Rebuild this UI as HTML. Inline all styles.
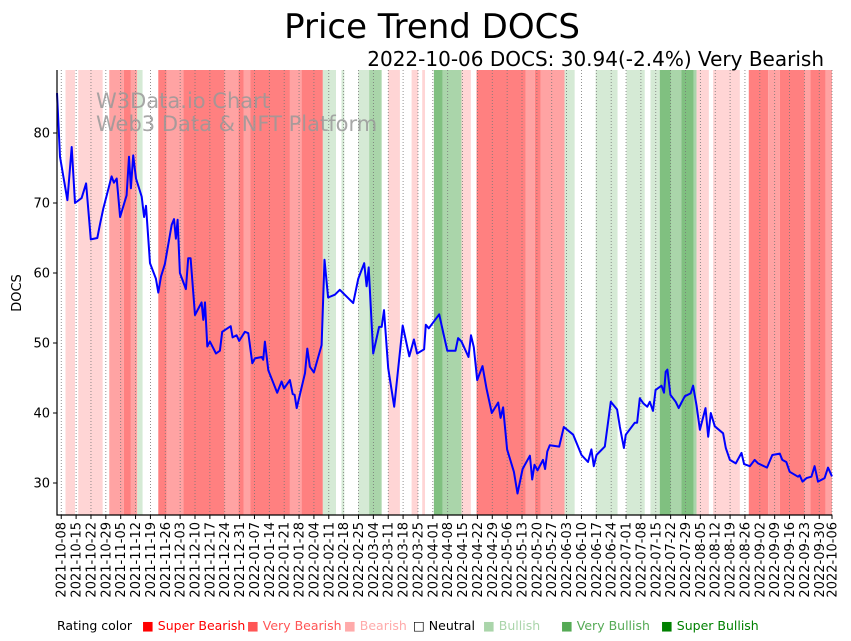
<!DOCTYPE html>
<html><head><meta charset="utf-8"><style>
html,body{margin:0;padding:0;background:#fff;}
svg{display:block;font-family:"DejaVu Sans","Liberation Sans",sans-serif;}
</style></head><body>
<svg id="chart" width="851" height="641" viewBox="0 0 851 641" xmlns="http://www.w3.org/2000/svg">
<g id="bands"></g>
<g id="grid"></g>
<text x="96" y="108" font-size="21" fill="#999" fill-opacity="0.85">W3Data.io Chart</text>
<text x="96" y="131" font-size="21" fill="#999" fill-opacity="0.85">Web3 Data &amp; NFT Platform</text>
<path id="line" fill="none" stroke="#0000ff" stroke-width="2" stroke-linejoin="round"/>
<g id="axes"></g>
<text x="432" y="38" font-size="34" text-anchor="middle">Price Trend DOCS</text>
<text x="824" y="66" font-size="20" text-anchor="end">2022-10-06 DOCS: 30.94(-2.4%) Very Bearish</text>
<text transform="translate(21,293) rotate(-90)" font-size="13" text-anchor="middle">DOCS</text>
<g font-size="12.5">
<text x="57" y="630">Rating color</text>
<text x="142" y="630" fill="#ff0000">■ Super Bearish</text>
<text x="247" y="630" fill="#ff5555">■ Very Bearish</text>
<text x="344" y="630" fill="#ffaaaa">■ Bearish</text>
<text x="413" y="630" fill="#000">□ Neutral</text>
<text x="483" y="630" fill="#aad5aa">■ Bullish</text>
<text x="561" y="630" fill="#55aa55">■ Very Bullish</text>
<text x="661" y="630" fill="#008000">■ Super Bullish</text>
</g>
</svg>
<script>
// data: days since 2021-10-06
const bandStart = [0,4,8.5,10,21.5,24.6,31.5,34.8,37.8,40.3,47.7,51.6,59.5,79,85.4,88,91,109.7,115.2,125.2,131.4,134,135.3,141.9,147,152.9,156,161.5,167,170.1,172,173.3,177.5,181.6,190.5,194.9,197.6,220.8,225,227.7,239.1,243.8,253.7,264,268.2,276.8,279.5,283.9,289.1,294.1,299.9,301.2,307,309,321.6,325.8,334.9,340.4,352.2,354.8,362];
const bandRating= [0,-1,0,-1,0,-2,-3,-2,1,0,-3,-2,-3,-2,-3,-2,-3,-2,-3,1,0,1,0,1,2,0,-1,0,-1,0,-1,0,3,2,-1,0,-3,-2,-3,-2,1,0,1,0,1,0,1,3,2,3,2,-1,0,-1,0,-3,-2,-3,-2,-3,-2];
const bandLastEnd = 365.2;
const priceDays = [0,1.4,4.9,6.9,8.5,11.6,13.7,15.9,19,20.2,21.8,25.7,26.8,28.1,29.7,32.8,33.9,34.8,35.9,37.2,39.9,41,41.9,43.8,46.6,47.7,49,50.8,54,55.1,56,56.8,57.9,60.7,61.8,62.9,65,68.1,68.9,69.7,70.8,72,74.9,76.7,77.8,81.8,82.7,84.6,85.8,88.5,90.1,92,93.2,96.4,97.1,97.9,99.5,103.7,105.8,106.9,109.7,111,111.9,112.9,116.8,117.9,119.1,121,124.6,126,127.7,130.9,133.2,139.5,141.9,144.7,145.8,146.8,148.9,151.7,152.9,154,156,158.8,162.8,165.9,168.1,169.6,172.9,173.7,175.1,180,181.9,183.8,187.7,188.9,190.5,193.8,195,196.3,197.9,200.4,202.3,204.8,207.8,208.9,210.1,212,215.2,216.9,219.3,222.7,223.8,224.9,226.3,228.9,229.9,230.9,232.1,236.5,238.7,243.1,247,250.1,251.7,252.8,254.1,258,260.8,263.8,265.1,267,267.9,272.1,273.2,274.5,276.1,278,279.2,280.7,281.9,284.7,285.9,286.7,287.5,288.9,291.4,292.8,294.1,295.7,298.4,299.6,301.2,302.8,305.4,306.7,307.9,309.8,313.7,315,316.9,319.7,322.4,323.6,326.3,328.6,330.2,334.4,336.9,340.4,341.6,343.5,345.1,349,349.8,351.1,353,355.3,356.8,358.4,361.5,363.1,365];
const priceValues = [85.7,76.6,70.4,78,70,70.7,72.8,64.8,65,66.9,69.2,73.8,72.9,73.5,68,71.1,76.6,72.1,76.8,73.5,70.9,68,69.6,61.4,59.2,57.2,59.5,61.3,66.9,67.7,64.9,67.6,60,57.7,62.1,62.1,54,55.8,53.3,55.8,49.5,50.2,48.5,48.9,51.6,52.4,50.8,51.1,50.3,51.6,51.4,47.1,47.8,48,47.6,50.2,46.1,42.9,44.5,43.5,44.7,42.7,42.6,40.7,45.7,49.2,46.6,45.8,49.7,61.9,56.5,56.9,57.6,55.7,59.2,61.4,58.1,60.8,48.5,52.3,52.3,54.7,46.4,40.9,52.5,48.1,50.5,48.5,49.1,52.6,52.1,54.1,51.5,48.9,48.9,50.7,50.2,48,51.1,49.4,44.7,46.7,43.5,40,41.5,39.3,40.8,34.8,31.6,28.5,32,33.9,30.5,32.6,31.8,33.3,32,34.5,35.4,35.2,38,36.9,34,33,34.8,32.4,34,35.2,41.6,40.5,38,35,36.9,38.6,38.6,42.1,41.4,40.9,41.6,40.3,43.3,43.9,42.9,45.9,46.2,42.6,41.6,40.7,41.5,42.4,42.8,43.9,41.1,37.6,40.7,36.6,40,38.1,37.1,35,33.3,32.8,34.3,32.7,32.4,33.3,32.8,32.2,34,34.2,33.3,33,31.6,30.9,31.1,30.2,30.7,30.9,32.4,30.2,30.7,32.2,30.94];
const yTicks = [30,40,50,60,70,80];
const tickDays = [2,9,16,23,30,37,44,51,58,65,72,79,86,93,100,107,114,121,128,135,142,149,156,163,170,177,184,191,198,205,212,219,226,233,240,247,254,261,268,275,282,289,296,303,310,317,324,331,338,345,352,359,365];
const tickLabels = ["2021-10-08","2021-10-15","2021-10-22","2021-10-29","2021-11-05","2021-11-12","2021-11-19","2021-11-26","2021-12-03","2021-12-10","2021-12-17","2021-12-24","2021-12-31","2022-01-07","2022-01-14","2022-01-21","2022-01-28","2022-02-04","2022-02-11","2022-02-18","2022-02-25","2022-03-04","2022-03-11","2022-03-18","2022-03-25","2022-04-01","2022-04-08","2022-04-15","2022-04-22","2022-04-29","2022-05-06","2022-05-13","2022-05-20","2022-05-27","2022-06-03","2022-06-10","2022-06-17","2022-06-24","2022-07-01","2022-07-08","2022-07-15","2022-07-22","2022-07-29","2022-08-05","2022-08-12","2022-08-19","2022-08-26","2022-09-02","2022-09-09","2022-09-16","2022-09-23","2022-09-30","2022-10-06"];

const L=57,R=832,T=70,B=515;
const xs=d=>L+(d/365)*(R-L);
const ys=v=>483-(v-30)*7;
const NS='http://www.w3.org/2000/svg';
const colors={"-3":"#ff8080","-2":"#ffa3a3","-1":"#ffd5d5","0":"none","1":"#d5ead5","2":"#aad5aa","3":"#80c080"};
const bands=document.getElementById('bands');
for(let i=0;i<bandStart.length;i++){
  if(bandRating[i]===0) continue;
  const end = i+1<bandStart.length ? bandStart[i+1] : bandLastEnd;
  const r=document.createElementNS(NS,'rect');
  
  
  const x0=xs(bandStart[i]), x1=Math.min(xs(end),R);
  r.setAttribute('x',x0);r.setAttribute('width',Math.max(0,x1-x0));
  r.setAttribute('y',T);r.setAttribute('height',B-T);
  r.setAttribute('fill',colors[bandRating[i]]);
  bands.appendChild(r);
}
const grid=document.getElementById('grid');
const axes=document.getElementById('axes');
tickDays.forEach((d,i)=>{
  const x=xs(d);
  const g=document.createElementNS(NS,'line');
  
  
  g.setAttribute('x1',x);g.setAttribute('x2',x);g.setAttribute('y1',T);g.setAttribute('y2',B);
  g.setAttribute('stroke','#777');g.setAttribute('stroke-width','0.8');g.setAttribute('stroke-dasharray','1,2');
  grid.appendChild(g);
  const t=document.createElementNS(NS,'line');
  
  
  t.setAttribute('x1',x);t.setAttribute('x2',x);t.setAttribute('y1',B);t.setAttribute('y2',B+4);
  t.setAttribute('stroke','#000');
  axes.appendChild(t);
  const tx=document.createElementNS(NS,'text');
  
  
  tx.setAttribute('transform','translate('+(x+4.5)+','+(B+7)+') rotate(-90)');
  tx.setAttribute('text-anchor','end');tx.setAttribute('font-size','13');
  tx.textContent=tickLabels[i];
  axes.appendChild(tx);
});
yTicks.forEach(v=>{
  const y=ys(v);
  const t=document.createElementNS(NS,'line');
  
  
  t.setAttribute('x1',L-4);t.setAttribute('x2',L);t.setAttribute('y1',y);t.setAttribute('y2',y);
  t.setAttribute('stroke','#000');
  axes.appendChild(t);
  const tx=document.createElementNS(NS,'text');
  
  
  tx.setAttribute('x',L-7);tx.setAttribute('y',y+4.5);tx.setAttribute('text-anchor','end');tx.setAttribute('font-size','13');
  tx.textContent=v;
  axes.appendChild(tx);
});
const sp=document.createElementNS(NS,'path');


sp.setAttribute('d','M'+L+','+T+'V'+B+'H'+R);
sp.setAttribute('stroke','#000');sp.setAttribute('stroke-width','1.2');sp.setAttribute('fill','none');
axes.appendChild(sp);
document.getElementById('line').setAttribute('d',priceDays.map((d,i)=>(i?'L':'M')+xs(d).toFixed(1)+','+ys(priceValues[i]).toFixed(1)).join(''));
</script>
</body></html>
